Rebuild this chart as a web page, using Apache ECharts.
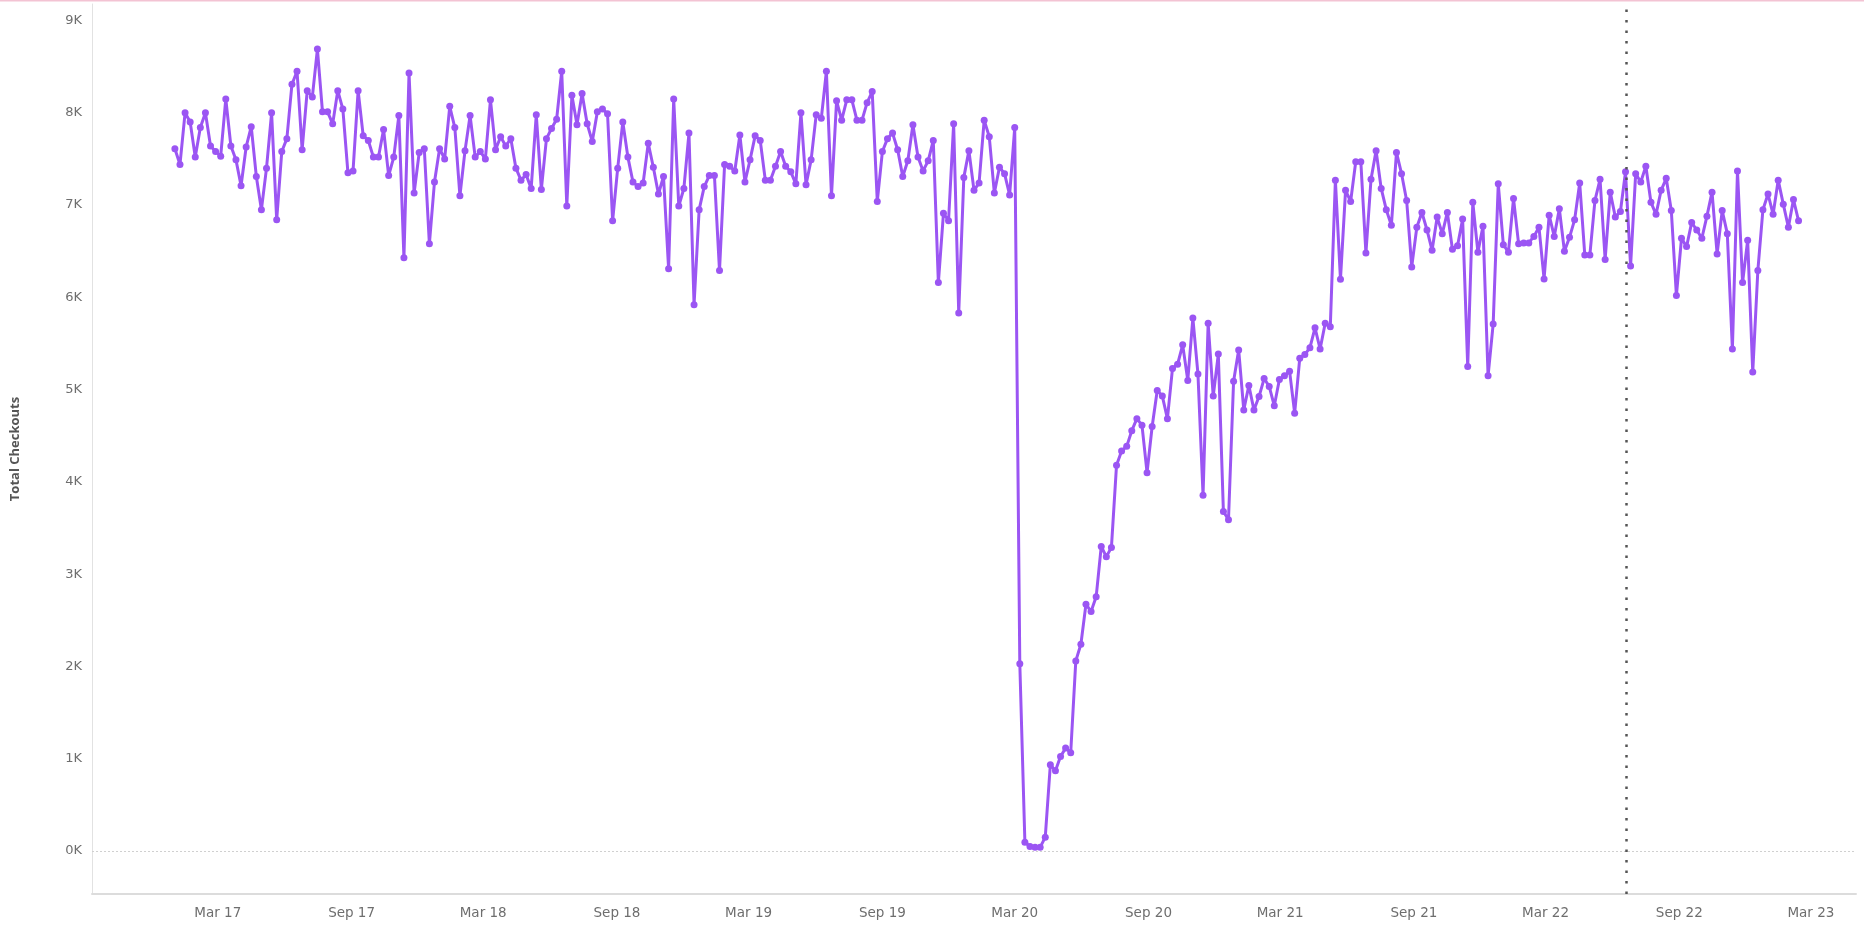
<!DOCTYPE html>
<html>
<head>
<meta charset="utf-8">
<script src="https://cdn.jsdelivr.net/npm/echarts@6/dist/echarts.min.js"></script>
<style>
  html, body { margin: 0; padding: 0; background: #ffffff; }
  #chart { width: 1864px; height: 925px; }
</style>
</head>
<body>
<div id="chart"></div>
<script>
// Weekly series: first week and step
const firstWeek = '2017-01-01';
const weekStepDays = 7;

// Total checkouts per week
const checkouts2017 = [
  7610, 7440, 8000, 7900, 7520, 7840, 8000, 7640, 7580, 7530, 8150, 7640, 7490,
  7210, 7630, 7850, 7310, 6950, 7400, 8000, 6840, 7580, 7720, 8310, 8450, 7600,
  8240, 8170, 8690, 8010, 8010, 7880, 8240, 8040, 7350, 7370, 8240, 7750, 7700,
  7520, 7520, 7820, 7320, 7520, 7970, 6430, 8430, 7130, 7570, 7610, 6580, 7250
];
const checkouts2018 = [
  7610, 7500, 8070, 7840, 7100, 7590, 7970, 7520, 7580, 7500, 8140, 7600, 7740,
  7640, 7720, 7400, 7270, 7330, 7180, 7980, 7170, 7720, 7830, 7930, 8450, 6990,
  8190, 7870, 8210, 7880, 7690, 8010, 8040, 7990, 6830, 7400, 7900, 7520, 7250,
  7200, 7240, 7670, 7410, 7120, 7310, 6310, 8150, 6990, 7180, 7780, 5920, 6950
];
const checkouts2019 = [
  7200, 7320, 7320, 6290, 7440, 7420, 7370, 7760, 7250, 7490, 7750, 7700, 7270,
  7270, 7420, 7580, 7420, 7360, 7230, 8000, 7220, 7490, 7980, 7940, 8450, 7100,
  8130, 7920, 8140, 8140, 7920, 7920, 8110, 8230, 7040, 7580, 7720, 7780, 7600,
  7310, 7480, 7870, 7520, 7370, 7480, 7700, 6160, 6910, 6830, 7880, 5830, 7300
];
const checkouts2020 = [
  7590, 7160, 7240, 7920, 7740, 7130, 7410, 7340, 7110, 7840, 2030, 95, 50,
  40, 40, 150, 935, 870, 1025, 1115, 1065, 2060, 2240, 2675, 2595, 2755,
  3300, 3190, 3290, 4180, 4335, 4385, 4555, 4685, 4615, 4100, 4600, 4990, 4930,
  4685, 5230, 5275, 5485, 5100, 5775, 5170, 3855, 5720, 4930, 5385, 3680, 3590
];
const checkouts2021 = [
  5090, 5430, 4780, 5045, 4780, 4925, 5120, 5035, 4825, 5110, 5150, 5200, 4745,
  5340, 5380, 5455, 5670, 5440, 5720, 5680, 7270, 6195, 7160, 7040, 7470, 7470,
  6480, 7280, 7590, 7180, 6950, 6780, 7570, 7340, 7050, 6330, 6760, 6920, 6730,
  6510, 6870, 6690, 6920, 6520, 6560, 6850, 5250, 7030, 6490, 6770, 5150, 5710
];
const checkouts2022 = [
  7230, 6570, 6490, 7070, 6580, 6590, 6590, 6660, 6760, 6200, 6890, 6660, 6960,
  6500, 6650, 6840, 7240, 6460, 6460, 7050, 7280, 6410, 7140, 6870, 6930, 7360,
  6340, 7340, 7250, 7420, 7030, 6900, 7160, 7290, 6940, 6020, 6640, 6550, 6810,
  6730, 6640, 6880, 7140, 6470, 6940, 6690, 5440, 7370, 6160, 6620, 5190, 6290
];
const checkouts2023 = [6950, 7120, 6900, 7270, 7010, 6760, 7060, 6830];

// Axis tick labels
const xTickDates = [
  '2017-03-01', '2017-09-01', '2018-03-01', '2018-09-01', '2019-03-01', '2019-09-01',
  '2020-03-01', '2020-09-01', '2021-03-01', '2021-09-01', '2022-03-01', '2022-09-01',
  '2023-03-01'
];
const yTickValues = [0, 1000, 2000, 3000, 4000, 5000, 6000, 7000, 8000, 9000];
const referenceDate = '2022-06-20';
const axisTitle = 'Total Checkouts';
const monthNames = ['Jan','Feb','Mar','Apr','May','Jun','Jul','Aug','Sep','Oct','Nov','Dec'];

// ---- build ----
const DAY = 86400000;
const toTs = s => Date.parse(s + 'T00:00:00Z');
const values = [].concat(checkouts2017, checkouts2018, checkouts2019, checkouts2020,
                         checkouts2021, checkouts2022, checkouts2023);
const start = toTs(firstWeek);
const seriesData = values.map((v, i) => [start + i * weekStepDays * DAY, v]);
const xTicks = xTickDates.map(toTs);

const chart = echarts.init(document.getElementById('chart'), null, { renderer: 'canvas' });
const labelColor = '#6e6e6e';
const fontFam = '"DejaVu Sans", "Open Sans", sans-serif';

chart.setOption({
  backgroundColor: '#ffffff',
  animation: false,
  graphic: [{
    type: 'rect', left: 0, top: 0, shape: { width: 1864, height: 1.5 },
    style: { fill: '#f3c3d3' }, silent: true
  }],
  grid: { left: 92, right: 8, top: 4, bottom: 31, containLabel: false },
  xAxis: {
    type: 'value',
    min: toTs('2016-09-09'),
    max: toTs('2023-05-02'),
    splitLine: { show: false },
    axisTick: { show: false },
    axisLine: { show: true, onZero: false, lineStyle: { color: '#dcdcdc', width: 2 } },
    axisLabel: {
      customValues: xTicks,
      color: labelColor,
      fontSize: 13.5,
      fontFamily: fontFam,
      margin: 12,
      formatter: v => {
        const d = new Date(v);
        return monthNames[d.getUTCMonth()] + ' ' + String(d.getUTCFullYear()).slice(2);
      }
    }
  },
  yAxis: {
    type: 'value',
    min: -466,
    max: 9179,
    name: axisTitle,
    nameLocation: 'middle',
    nameGap: 70,
    nameTextStyle: { color: '#555555', fontSize: 13, fontWeight: 'bold', fontFamily: '"Open Sans", sans-serif' },
    splitLine: { show: false },
    axisTick: { show: false },
    axisLine: { show: true, lineStyle: { color: '#e2e2e2', width: 1 } },
    axisLabel: {
      customValues: yTickValues,
      color: labelColor,
      fontSize: 13,
      fontFamily: fontFam,
      margin: 10,
      formatter: v => (v / 1000) + 'K'
    }
  },
  series: [{
    type: 'line',
    data: seriesData,
    symbol: 'circle',
    symbolSize: 7,
    showSymbol: true,
    itemStyle: { color: '#9b55f3' },
    lineStyle: { color: '#9b55f3', width: 3 },
    markLine: {
      silent: true,
      symbol: ['none', 'none'],
      label: { show: false },
      data: [
        { yAxis: 0, lineStyle: { color: '#d0d0d0', width: 1, type: [2, 2] } },
        { xAxis: toTs(referenceDate), lineStyle: { color: '#555555', width: 2.5, type: [2.5, 8] } }
      ]
    }
  }]
});
</script>
</body>
</html>
